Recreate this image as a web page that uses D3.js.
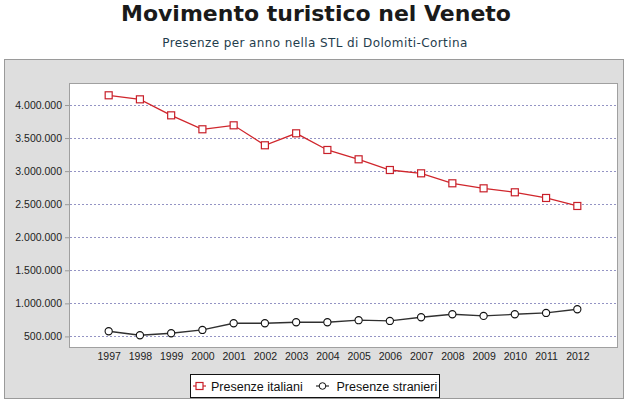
<!DOCTYPE html>
<html>
<head>
<meta charset="utf-8">
<script src="https://cdn.jsdelivr.net/npm/d3@7"></script>
<style>
  body { margin: 0; background: #fff; }
  svg { display: block; }
</style>
</head>
<body>
<div id="chart"></div>
<script>
// Data
const years = ["1997", "1998", "1999", "2000", "2001", "2002", "2003", "2004",
               "2005", "2006", "2007", "2008", "2009", "2010", "2011", "2012"];
const italiani = [4147000, 4086000, 3844000, 3633000, 3693000, 3391000, 3572000, 3320000,
                  3179000, 3017000, 2967000, 2816000, 2740000, 2680000, 2594000, 2473000];
const stranieri = [578000, 518000, 548000, 598000, 699000, 699000, 714000, 714000,
                   745000, 734000, 790000, 835000, 810000, 835000, 855000, 911000];
const yTicks = [500000, 1000000, 1500000, 2000000, 2500000, 3000000, 3500000, 4000000];
const seriesNames = ["Presenze italiani", "Presenze stranieri"];

const width = 632, height = 407;
const plot = { left: 69, top: 83, right: 617, bottom: 347 };

const svg = d3.select("#chart")
    .append("svg")
    .attr("width", width)
    .attr("height", height);

// Title and subtitle
svg.append("text")
    .attr("x", 316)
    .attr("y", 21)
    .attr("text-anchor", "middle")
    .style("font-family", "DejaVu Sans, Verdana, sans-serif")
    .style("font-weight", "bold")
    .style("font-size", "22px")
    .attr("fill", "#1a1a1a")
    .text("Movimento turistico nel Veneto");

svg.append("text")
    .attr("x", 315)
    .attr("y", 47)
    .attr("text-anchor", "middle")
    .style("font-family", "DejaVu Sans, Verdana, sans-serif")
    .style("font-size", "12px")
    .style("letter-spacing", "0.4px")
    .attr("fill", "#1f3d4d")
    .text("Presenze per anno nella STL di Dolomiti-Cortina");

// Grey outer panel
svg.append("rect")
    .attr("x", 4.5)
    .attr("y", 59.5)
    .attr("width", 619)
    .attr("height", 339)
    .attr("fill", "#dedede")
    .attr("stroke", "#9a9a9a");

// Plot background
svg.append("rect")
    .attr("x", plot.left + 0.5)
    .attr("y", plot.top + 0.5)
    .attr("width", plot.right - plot.left)
    .attr("height", plot.bottom - plot.top)
    .attr("fill", "#fff")
    .attr("stroke", "#a0a0a0");

// Scales
const xScale = d3.scalePoint()
    .domain(years)
    .range([plot.left, plot.right])
    .padding(1.27);

const yScale = d3.scaleLinear()
    .domain([340000, 4333000])
    .range([plot.bottom, plot.top]);

// Gridlines
svg.append("g")
    .selectAll("line")
    .data(yTicks)
    .join("line")
    .attr("x1", plot.left + 1)
    .attr("x2", plot.right)
    .attr("y1", d => Math.round(yScale(d)) + 0.5)
    .attr("y2", d => Math.round(yScale(d)) + 0.5)
    .attr("stroke", "#9494c4")
    .attr("stroke-dasharray", "2,2");

const fmt = d3.formatLocale({ decimal: ",", thousands: ".", grouping: [3], currency: ["", "€"] }).format(",d");

// Y axis
const yAxis = svg.append("g")
    .attr("transform", `translate(${plot.left},0)`)
    .call(d3.axisLeft(yScale).tickValues(yTicks).tickFormat(fmt).tickSize(4).tickPadding(3));
yAxis.select(".domain").remove();
yAxis.selectAll("line").attr("stroke", "#9a9a9a");
yAxis.selectAll("text")
    .style("font-family", "Liberation Sans, Arial, sans-serif")
    .style("font-size", "10.5px")
    .attr("fill", "#222");

// X axis
const xAxis = svg.append("g")
    .attr("transform", `translate(0,${plot.bottom})`)
    .call(d3.axisBottom(xScale).tickSize(0).tickPadding(6));
xAxis.select(".domain").remove();
xAxis.selectAll("text")
    .style("font-family", "Liberation Sans, Arial, sans-serif")
    .style("font-size", "10.5px")
    .attr("fill", "#222");

// Lines
const line = d3.line()
    .x((d, i) => xScale(years[i]))
    .y(d => yScale(d));

svg.append("path")
    .datum(italiani)
    .attr("d", line)
    .attr("fill", "none")
    .attr("stroke", "#d0262c")
    .attr("stroke-width", 1.3);

svg.append("path")
    .datum(stranieri)
    .attr("d", line)
    .attr("fill", "none")
    .attr("stroke", "#303030")
    .attr("stroke-width", 1.3);

// Markers
svg.append("g")
    .selectAll("rect")
    .data(italiani)
    .join("rect")
    .attr("x", (d, i) => xScale(years[i]) - 3.5)
    .attr("y", d => yScale(d) - 3.5)
    .attr("width", 7)
    .attr("height", 7)
    .attr("fill", "#fff")
    .attr("stroke", "#c8202a")
    .attr("stroke-width", 1.2);

svg.append("g")
    .selectAll("circle")
    .data(stranieri)
    .join("circle")
    .attr("cx", (d, i) => xScale(years[i]))
    .attr("cy", d => yScale(d))
    .attr("r", 3.6)
    .attr("fill", "#fff")
    .attr("stroke", "#111")
    .attr("stroke-width", 1.1);

// Legend
const legend = svg.append("g");
legend.append("rect")
    .attr("x", 190.5)
    .attr("y", 374.5)
    .attr("width", 249)
    .attr("height", 23)
    .attr("fill", "#fff")
    .attr("stroke", "#111");

const legendItems = [
    { name: seriesNames[0], x: 193, color: "#d0262c", shape: "square" },
    { name: seriesNames[1], x: 316, color: "#303030", shape: "circle" }
];

legendItems.forEach(item => {
    const row = legend.append("g").attr("transform", `translate(${item.x},386)`);
    row.append("line")
        .attr("x1", 0).attr("x2", 13)
        .attr("stroke", item.color)
        .attr("stroke-width", 1.2);
    if (item.shape === "square") {
        row.append("rect")
            .attr("x", 3).attr("y", -3.5)
            .attr("width", 7).attr("height", 7)
            .attr("fill", "#fff")
            .attr("stroke", "#c8202a")
            .attr("stroke-width", 1.2);
    } else {
        row.append("circle")
            .attr("cx", 6.5).attr("r", 3.3)
            .attr("fill", "#fff")
            .attr("stroke", "#111");
    }
    row.append("text")
        .attr("x", item.shape === "square" ? 18 : 20.5)
        .attr("y", 5)
        .style("font-family", "Liberation Sans, Arial, sans-serif")
        .style("font-size", "12.5px")
        .attr("fill", "#111")
        .text(item.name);
});
</script>
</body>
</html>
